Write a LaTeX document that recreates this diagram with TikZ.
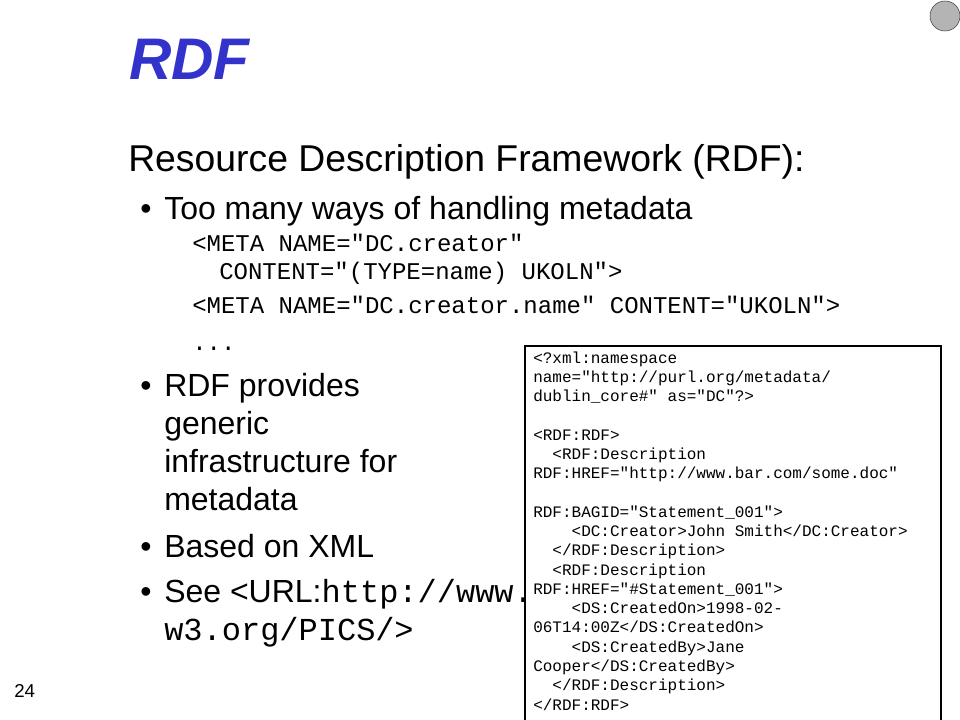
\documentclass[tikz,border=0pt]{standalone}
\usepackage{fontspec}
\setmainfont{Liberation Sans}
\setmonofont{Liberation Mono}
\usepackage{xcolor}
\usetikzlibrary{positioning}
\definecolor{titleblue}{RGB}{51,51,204}
\definecolor{dotgray}{RGB}{180,180,180}

\begin{document}
\begin{tikzpicture}[
    x=0.75pt,
    y=-0.75pt,
    font=\fontsize{24}{28.5}\selectfont,
    title/.style={
		anchor=base west,
		inner sep=0pt,
		text=titleblue,
		font=\fontsize{44}{50}\selectfont\bfseries\itshape
	},
	heading/.style={
		anchor=base west,
		inner sep=0pt,
		font=\fontsize{28}{34}\selectfont
	},
	bulletdot/.style={
		anchor=base west,
		inner sep=0pt
	},
	bulletline/.style={
		anchor=base west,
		inner sep=0pt
	},
	metacode/.style={
		anchor=base west,
		inner sep=0pt,
		font=\fontsize{18}{22}\selectfont\ttfamily
	},
	xmlcode/.style={
		anchor=base west,
		inner sep=0pt,
		align=left,
		font=\fontsize{12}{14.44}\selectfont\ttfamily
	},
	codebox/.style={
		draw=black,
		line width=1pt,
		fill=white
	},
	navdot/.style={
		circle,
		draw=black!75,
		fill=dotgray,
		inner sep=0pt,
		minimum size=22.5pt
	},
	pagenum/.style={
		anchor=base west,
		inner sep=0pt,
		font=\fontsize{14}{16}\selectfont
	}
  ]

 \useasboundingbox (0,0) rectangle (960,720);

 \node [navdot] (dot) at (945,16) {};

 \node [title] (rdf) at (129,80) {RDF};
 \node [heading] (rdfname) at (128,172) {Resource Description Framework (RDF):};

% // first bullet
 \node [bulletdot] (dot1) at (140,220) {\textbullet};
 \node [bulletline] (ways) at (164,220) {Too many ways of handling metadata};
 \node [metacode] (meta1) at (192,252) {<META NAME="DC.creator"};
 \node [metacode] (meta2) at (219,280) {CONTENT="(TYPE=name) UKOLN">};
 \node [metacode] (meta3) at (192,314) {<META NAME="DC.creator.name" CONTENT="UKOLN">};
 \node [metacode] (dots) at (192,350) {...};

% // second bullet
 \node [bulletdot] (dot2) at (140,396) {\textbullet};
 \node [bulletline] (provides) at (164,396) {RDF provides};
 \node [bulletline] (generic) at (164,434) {generic};
 \node [bulletline] (infra) at (164,472) {infrastructure for};
 \node [bulletline] (metadata) at (164,510) {metadata};

% // third and fourth bullet
 \node [bulletdot] (dot3) at (140,557) {\textbullet};
 \node [bulletline] (xml) at (164,557) {Based on XML};
 \node [bulletdot] (dot4) at (140,602) {\textbullet};
 \node [bulletline] (see) at (164,602) {See <URL:\texttt{http://www.}};
 \node [bulletline] (pics) at (164,640) {\texttt{w3.org/PICS/}>};

 \node [pagenum] (page) at (14,697) {24};

% // The XML box
 \coordinate (boxtl) at (525,346);
 \coordinate (boxtr) at (941,346);
 \draw [codebox] (boxtl) ++(0,380) |- (boxtr) -- ++(0,380);

% base of the node is its last line
 \node [xmlcode] (xmlsrc) at (533,710)
 {%
 <?xml:namespace\\
 name="http://purl.org/metadata/\\
 dublin\_core\#" as="DC"?>\\
 \mbox{}\\
 <RDF:RDF>\\
 \hspace*{1.2em}<RDF:Description\\
 RDF:HREF="http://www.bar.com/some.doc"\\
 \mbox{}\\
 RDF:BAGID="Statement\_001">\\
 \hspace*{2.4em}<DC:Creator>John Smith</DC:Creator>\\
 \hspace*{1.2em}</RDF:Description>\\
 \hspace*{1.2em}<RDF:Description\\
 RDF:HREF="\#Statement\_001">\\
 \hspace*{2.4em}<DS:CreatedOn>1998-02-\\
 06T14:00Z</DS:CreatedOn>\\
 \hspace*{2.4em}<DS:CreatedBy>Jane\\
 Cooper</DS:CreatedBy>\\
 \hspace*{1.2em}</RDF:Description>\\
 </RDF:RDF>
 };

\end{tikzpicture}
\end{document}
